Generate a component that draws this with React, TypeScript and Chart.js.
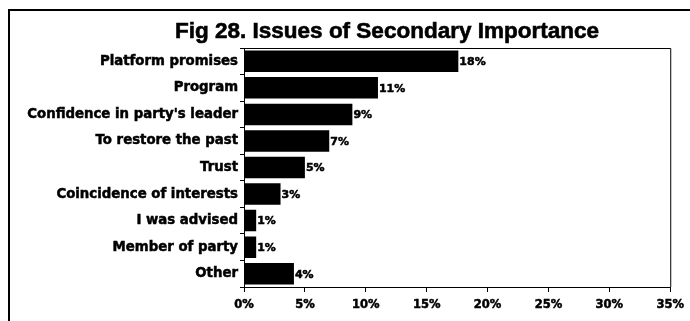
import React, { useEffect, useRef } from "react";
import { Chart, registerables } from "chart.js";

Chart.register(...registerables);

const title = "Fig 28. Issues of Secondary Importance";
const categories = [
  "Platform promises",
  "Program",
  "Confidence in party's leader",
  "To restore the past",
  "Trust",
  "Coincidence of interests",
  "I was advised",
  "Member of party",
  "Other",
];
const values = [17.6, 11, 8.9, 7, 5, 3, 1, 1, 4.1];
const xMin = 0;
const xMax = 35;
const xStep = 5;

const W = 690;
const H = 321;

export default function App() {
  const ref = useRef<HTMLCanvasElement | null>(null);

  useEffect(() => {
    const canvas = ref.current;
    if (!canvas) return;

    const decor = {
      id: "decor",
      beforeDraw(chart: any) {
        const ctx = chart.ctx;
        ctx.save();
        ctx.fillStyle = "#fff";
        ctx.fillRect(0, 0, chart.width, chart.height);
        ctx.restore();
      },
      afterDatasetsDraw(chart: any) {
        const ctx = chart.ctx;
        const meta = chart.getDatasetMeta(0);
        ctx.save();
        ctx.fillStyle = "#000";
        ctx.strokeStyle = "#000";
        ctx.lineWidth = 0.5;
        ctx.font = "bold 11px 'DejaVu Sans'";
        ctx.textAlign = "left";
        ctx.textBaseline = "middle";
        meta.data.forEach((el: any, i: number) => {
          const t = `${Math.round(values[i])}%`;
          ctx.fillText(t, el.x + 1, el.y + 1);
          ctx.strokeText(t, el.x + 1, el.y + 1);
        });
        ctx.restore();
      },
      afterDraw(chart: any) {
        const ctx = chart.ctx;
        const a = chart.chartArea;
        ctx.save();
        // outer frame
        ctx.strokeStyle = "#000";
        ctx.lineWidth = 2;
        ctx.beginPath();
        ctx.moveTo(9, H);
        ctx.lineTo(9, 10);
        ctx.lineTo(W, 10);
        ctx.stroke();
        // plot box top & right
        ctx.lineWidth = 1;
        ctx.beginPath();
        ctx.moveTo(a.left, a.top + 0.5);
        ctx.lineTo(a.right + 0.5, a.top + 0.5);
        ctx.lineTo(a.right + 0.5, a.bottom);
        ctx.stroke();
        // title
        ctx.fillStyle = "#000";
        ctx.font = "bold 22.5px 'Liberation Sans', Arial, sans-serif";
        ctx.textAlign = "center";
        ctx.textBaseline = "alphabetic";
        ctx.lineWidth = 0.6;
        ctx.fillText(title, 387, 38);
        ctx.strokeText(title, 387, 38);
        ctx.restore();
      },
    };

    const chart = new Chart(canvas, {
      type: "bar",
      data: {
        labels: categories,
        datasets: [
          {
            data: values,
            backgroundColor: "#000",
            borderWidth: 0,
            barPercentage: 0.81,
            categoryPercentage: 1,
          },
        ],
      },
      options: {
        indexAxis: "y",
        animation: false,
        responsive: false,
        devicePixelRatio: 1,
        layout: { padding: { top: 48, right: 15, left: 0, bottom: 0 } },
        plugins: {
          legend: { display: false },
          title: { display: false },
          tooltip: { enabled: false },
        },
        scales: {
          x: {
            min: xMin,
            max: xMax,
            afterFit(scale: any) {
              scale.height = H - 287;
            },
            ticks: {
              stepSize: xStep,
              color: "#000",
              font: { family: "'DejaVu Sans'", weight: "bold", size: 11.5 },
              padding: 6,
              textStrokeColor: "#000",
              textStrokeWidth: 0.5,
              callback: (v: any) => `${v}%`,
              maxRotation: 0,
            },
            grid: {
              display: true,
              drawOnChartArea: false,
              drawTicks: true,
              tickLength: 5,
              color: "#000",
            },
            border: { display: true, color: "#000", width: 1 },
          },
          y: {
            afterFit(scale: any) {
              scale.width = 244;
            },
            ticks: {
              color: "#000",
              font: { family: "'DejaVu Sans'", weight: "bold", size: 13.3 },
              padding: 2,
              textStrokeColor: "#000",
              textStrokeWidth: 0.5,
              autoSkip: false,
            },
            grid: {
              display: true,
              drawOnChartArea: false,
              drawTicks: true,
              tickLength: 4,
              color: "#000",
            },
            border: { display: true, color: "#000", width: 1 },
          },
        },
      },
      plugins: [decor],
    });

    return () => chart.destroy();
  }, []);

  return (
    <div
      style={{
        position: "fixed",
        left: 0,
        top: 0,
        width: W,
        height: H,
        background: "#fff",
      }}
    >
      <canvas ref={ref} width={W} height={H} style={{ width: W, height: H, display: "block" }} />
    </div>
  );
}
